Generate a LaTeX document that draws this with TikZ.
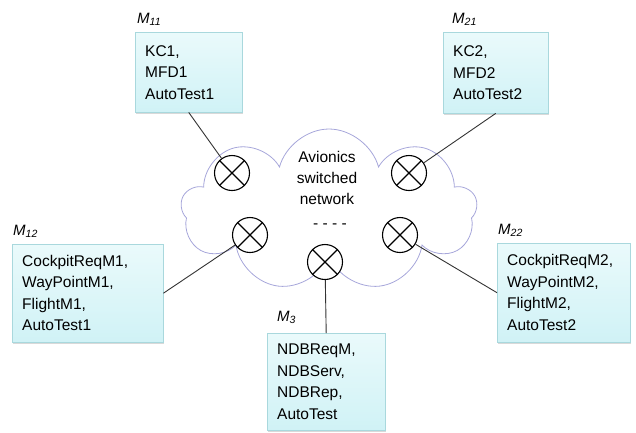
\documentclass[tikz,border=0pt]{standalone}
\usepackage{fontspec}
\setmainfont{Liberation Sans}
\usetikzlibrary{positioning,shapes.symbols,shadows}
\definecolor{cloudline}{HTML}{A6A6DA}
\definecolor{boxedge}{HTML}{A9D8DD}
\definecolor{boxtop}{HTML}{EAFAFB}
\definecolor{boxbot}{HTML}{D0F2F6}
\definecolor{wiregray}{HTML}{333333}

\begin{document}
\begin{tikzpicture}[x=1pt,y=-1pt,
  box/.style={draw=boxedge,top color=boxtop,bottom color=boxbot,align=left,
    font=\fontsize{15.5}{21.5}\selectfont,inner xsep=10pt,anchor=north west,
    drop shadow={opacity=0.3,shadow xshift=1pt,shadow yshift=-2pt}},
  tag/.style={font=\fontsize{15}{18}\selectfont\itshape,inner sep=0pt},
  switch/.style={circle,draw,line width=1.1pt,fill=white,minimum size=35pt,inner sep=0pt},
  wire/.style={draw=wiregray,line width=0.9pt}]
\useasboundingbox (0,0) rectangle (636,432);

% the switched network
\node[cloud,cloud puffs=9,cloud puff arc=150,cloud ignores aspect,draw=cloudline,
  line width=0.8pt,minimum width=296pt,minimum height=162pt] (net) at (329,210) {};
\node[font=\fontsize{15.5}{21}\selectfont,align=center] (netname) at (327,178)
  {Avionics\\switched\\network};
\node[font=\fontsize{15.5}{21}\selectfont] (more) at (330,226) {- - - -};

\foreach \n/\x/\y in {s11/232/173,s21/409/173,s12/250/235,s22/400/235,s3/325/262}{
  \node[switch] (\n) at (\x,\y) {};
  \draw[line width=1.1pt] (\n.north west) -- (\n.south east)
                          (\n.north east) -- (\n.south west);
}

% modules
\node[box,text width=87pt,minimum height=80pt] (m11) at (135,32) {KC1,\\MFD1\\AutoTest1};
\node[box,text width=85pt,minimum height=81pt] (m21) at (443,32) {KC2,\\MFD2\\AutoTest2};
\node[box,text width=131pt,minimum height=98pt] (m12) at (12,244)
  {CockpitReqM1,\\WayPointM1,\\FlightM1,\\AutoTest1};
\node[box,text width=113pt,minimum height=99pt] (m22) at (497,243)
  {CockpitReqM2,\\WayPointM2,\\FlightM2,\\AutoTest2};
\node[box,text width=98pt,minimum height=97pt] (m3) at (267,333)
  {NDBReqM,\\NDBServ,\\NDBRep,\\AutoTest};

\node[tag,above right=6pt and 2pt of m11.north west] (t11) {M\textsubscript{11}};
\node[tag,above right=6pt and 9pt of m21.north west] (t21) {M\textsubscript{21}};
\node[tag,above right=6pt and 1pt of m12.north west] (t12) {M\textsubscript{12}};
\node[tag,above right=6pt and 1pt of m22.north west] (t22) {M\textsubscript{22}};
\node[tag,above right=9pt and 10pt of m3.north west] (t3) {M\textsubscript{3}};

% links
\draw[wire] (m11.south) -- (s11);
\draw[wire] (m21.south) -- (s21);
\draw[wire] (m12.east) -- (s12);
\draw[wire] (m22.west) -- (s22);
\draw[wire] (m3.north) -- (s3);
\end{tikzpicture}
\end{document}
